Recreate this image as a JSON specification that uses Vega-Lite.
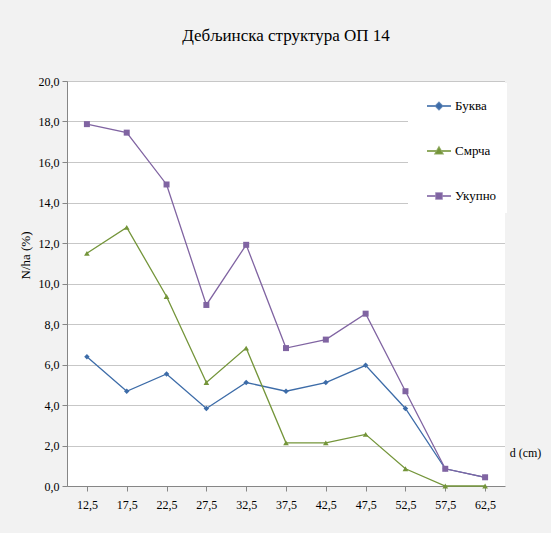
{
  "$schema": "https://vega.github.io/schema/vega-lite/v6.json",
  "autosize": "none",
  "width": 438,
  "height": 405,
  "padding": {"left": 67, "top": 81, "right": 46, "bottom": 47},
  "background": "#f2f2f2",
  "title": {
    "text": "Дебљинска структура ОП 14",
    "font": "Liberation Serif",
    "fontSize": 17,
    "fontWeight": "normal",
    "color": "#000000",
    "anchor": "middle",
    "offset": 30
  },
  "config": {
    "font": "Liberation Serif",
    "view": {"stroke": null, "fill": "#ffffff"},
    "axis": {
      "labelFont": "Liberation Serif",
      "labelFontSize": 12,
      "labelColor": "#000000",
      "titleFont": "Liberation Serif",
      "titleFontSize": 12,
      "titleFontWeight": "normal",
      "titleColor": "#000000",
      "domainColor": "#868686",
      "tickColor": "#868686",
      "tickSize": 5
    },
    "legend": {
      "labelFont": "Liberation Serif"
    }
  },
  "data": {
    "values": [
      {"d": "12,5", "series": "Буква", "value": 6.38},
      {"d": "17,5", "series": "Буква", "value": 4.68},
      {"d": "22,5", "series": "Буква", "value": 5.53},
      {"d": "27,5", "series": "Буква", "value": 3.83},
      {"d": "32,5", "series": "Буква", "value": 5.11},
      {"d": "37,5", "series": "Буква", "value": 4.68},
      {"d": "42,5", "series": "Буква", "value": 5.11},
      {"d": "47,5", "series": "Буква", "value": 5.96},
      {"d": "52,5", "series": "Буква", "value": 3.83},
      {"d": "57,5", "series": "Буква", "value": 0.85},
      {"d": "62,5", "series": "Буква", "value": 0.43},
      {"d": "12,5", "series": "Смрча", "value": 11.49},
      {"d": "17,5", "series": "Смрча", "value": 12.77},
      {"d": "22,5", "series": "Смрча", "value": 9.36},
      {"d": "27,5", "series": "Смрча", "value": 5.11},
      {"d": "32,5", "series": "Смрча", "value": 6.81},
      {"d": "37,5", "series": "Смрча", "value": 2.13},
      {"d": "42,5", "series": "Смрча", "value": 2.13},
      {"d": "47,5", "series": "Смрча", "value": 2.55},
      {"d": "52,5", "series": "Смрча", "value": 0.85},
      {"d": "57,5", "series": "Смрча", "value": 0},
      {"d": "62,5", "series": "Смрча", "value": 0},
      {"d": "12,5", "series": "Укупно", "value": 17.87},
      {"d": "17,5", "series": "Укупно", "value": 17.45},
      {"d": "22,5", "series": "Укупно", "value": 14.89},
      {"d": "27,5", "series": "Укупно", "value": 8.94},
      {"d": "32,5", "series": "Укупно", "value": 11.91},
      {"d": "37,5", "series": "Укупно", "value": 6.81},
      {"d": "42,5", "series": "Укупно", "value": 7.23},
      {"d": "47,5", "series": "Укупно", "value": 8.51},
      {"d": "52,5", "series": "Укупно", "value": 4.68},
      {"d": "57,5", "series": "Укупно", "value": 0.85},
      {"d": "62,5", "series": "Укупно", "value": 0.43}
    ]
  },
  "encoding": {
    "x": {
      "field": "d",
      "type": "ordinal",
      "sort": null,
      "scale": {"type": "point", "padding": 0.5},
      "axis": {
        "title": "d (cm)",
        "labelAngle": 0,
        "labelPadding": 8,
        "labelFont": "Liberation Serif",
        "titleFont": "Liberation Serif",
        "grid": false,
        "titleX": 458,
        "titleY": -34,
        "titleAlign": "center",
        "titleBaseline": "middle"
      }
    },
    "y": {
      "field": "value",
      "type": "quantitative",
      "scale": {"domain": [0, 20], "nice": false},
      "axis": {
        "title": "N/ha (%)",
        "values": [0, 2, 4, 6, 8, 10, 12, 14, 16, 18, 20],
        "labelExpr": "replace(format(datum.value, '.1f'), '.', ',')",
        "labelPadding": 3,
        "labelFont": "Liberation Serif",
        "titleFont": "Liberation Serif",
        "titleFontSize": 13,
        "grid": true,
        "gridColor": "#8f8f8f",
        "gridDash": [1, 1],
        "gridWidth": 1,
        "titleX": -42,
        "titleY": 174,
        "titleAngle": 270,
        "titleAlign": "center",
        "titleBaseline": "middle"
      }
    },
    "color": {
      "field": "series",
      "type": "nominal",
      "scale": {
        "domain": ["Буква", "Смрча", "Укупно"],
        "range": ["#3d6ca8", "#74953a", "#8064a2"]
      },
      "legend": {
        "title": null,
        "orient": "none",
        "legendX": 341,
        "legendY": 2,
        "fillColor": "#ffffff",
        "padding": 10,
        "symbolOffset": 8,
        "symbolSize": 576,
        "rowPadding": 25,
        "labelOffset": 3,
        "labelFont": "Liberation Serif",
        "labelFontSize": 13,
        "labelColor": "#000000",
        "encode": {
          "symbols": {
            "update": {
              "shape": {"signal": "datum.value === 'Буква' ? 'M-1,0H1M0,-0.28L0.28,0L0,0.28L-0.28,0Z' : datum.value === 'Смрча' ? 'M-1,0H1M0,-0.3L0.3,0.22L-0.3,0.22Z' : 'M-1,0H1M-0.24,-0.24H0.24V0.24H-0.24Z'"},
              "fill": {"signal": "scale('color', datum.value)"},
              "stroke": {"signal": "scale('color', datum.value)"},
              "strokeWidth": {"value": 1.8},
              "opacity": {"value": 1},
              "fillOpacity": {"value": 1},
              "strokeOpacity": {"value": 0.8}
            }
          }
        }
      }
    }
  },
  "layer": [
    {
      "mark": {"type": "line", "strokeWidth": 1.3}
    },
    {
      "transform": [{"filter": "datum.series === 'Буква'"}],
      "mark": {"type": "point", "filled": true, "opacity": 1, "size": 30, "shape": "diamond"}
    },
    {
      "transform": [{"filter": "datum.series === 'Смрча'"}],
      "mark": {"type": "point", "filled": true, "opacity": 1, "size": 32, "shape": "triangle-up"}
    },
    {
      "transform": [{"filter": "datum.series === 'Укупно'"}],
      "mark": {"type": "point", "filled": true, "opacity": 1, "size": 36, "shape": "square"}
    }
  ]
}
